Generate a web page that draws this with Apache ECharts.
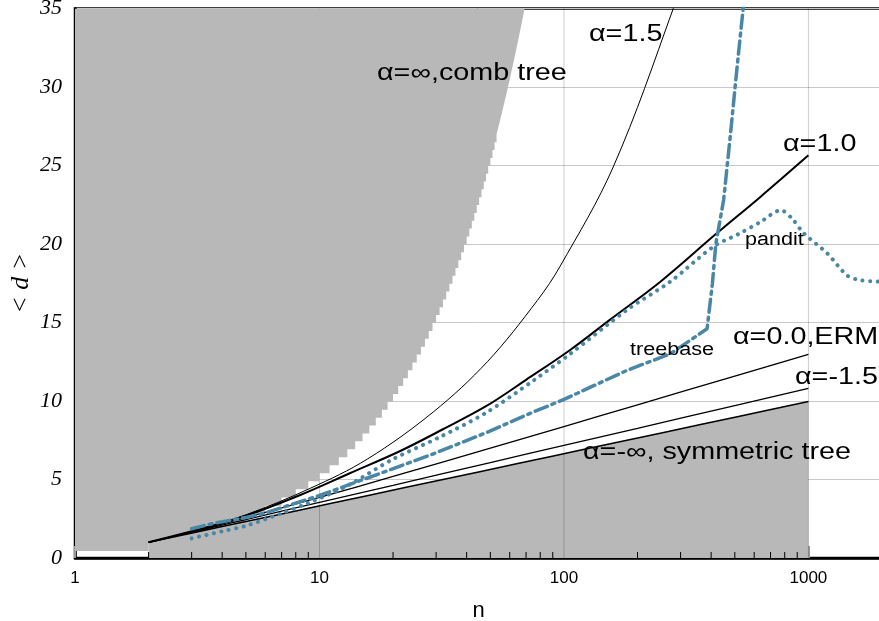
<!DOCTYPE html>
<html><head><meta charset="utf-8">
<script src="https://cdn.jsdelivr.net/npm/echarts@6/dist/echarts.min.js"></script>
<style>html,body{margin:0;padding:0;background:#fff}#c{width:879px;height:621px}</style>
</head><body><div id="c"></div><script>
// ---- data ----
const combN = [1,2,3,4,5,6,7,8,9,10,11,12,13,14,15,16,17,18,19,20,21,22,23,24,25,26,27,28,29,30,31,32,33,34,35,36,37,38,39,40,41,42,43,44,45,46,47,48,49,50,51,52,53,54,55,56,57,58,59,60,61,62,63,64,65,66,67,68,69,70];
const combDepth = [0.45,1.00,1.67,2.25,2.80,3.33,3.86,4.38,4.89,5.40,5.91,6.42,6.92,7.43,7.93,8.44,8.94,9.44,9.95,10.45,10.95,11.45,11.96,12.46,12.96,13.46,13.96,14.46,14.97,15.47,15.97,16.47,16.97,17.47,17.97,18.47,18.97,19.47,19.97,20.48,20.98,21.48,21.98,22.48,22.98,23.48,23.98,24.48,24.98,25.48,25.98,26.48,26.98,27.48,27.98,28.48,28.98,29.48,29.98,30.48,30.98,31.48,31.98,32.48,32.98,33.48,33.98,34.48,34.99,35.00];

const symN = [2,4,8,16,32,64,128,256,512,1000];
const symDepth = [1,2,3,4,5,6,7,8,9,9.97];

const a15N = [2,3,5,9.2,15.7,29.2,48.6,77.8,96.6,159,280,320];
const a15D = [1,1.7,2.75,4.45,6.3,9.3,12.5,16.4,18.6,24.9,35,38];

const a10N = [2,3,5,8.3,13.3,21.3,32,48.4,70,106,155,248,416,636,1000];
const a10D = [1,1.7,2.7,4.0,5.4,6.8,8.2,9.7,11.35,13.25,15.2,17.6,20.6,23.0,25.65];

const a00N = [2,3,5,10,20,50,100,200,500,1000];
const a00D = [1,1.667,2.567,3.858,5.195,6.998,8.375,9.756,11.586,12.971];

const am15N = [2,3,5,10,20,50,100,200,500,1000];
const am15D = [1,1.64,2.45,3.54,4.63,6.08,7.17,8.26,9.71,10.8];

const panditN = [3,4,5,7,9,13,20,31,48,75,106,181,272,410,520,636,771,860,955,1195,1440,1630,1970];
const panditD = [1.25,1.7,2.05,2.85,3.5,4.6,6.3,7.7,9.25,11.3,13.0,15.8,17.6,19.85,20.65,21.4,22.15,21.6,20.7,19.4,18.0,17.7,17.6];

const treeN = [3,3.67,5.06,5.9,10,18.3,29.3,48.4,75,100,181,272,385,405,418,450,480,511,540,560];
const treeD = [1.86,2.2,2.6,2.83,3.98,5.47,6.64,8.0,9.3,10.1,11.95,13.0,14.6,17.5,20,22.8,27,31.3,34.9,37];

const gridXs = [10,100,1000];
const minorTickXs = [2,3,4,5,6,7,8,9,20,30,40,50,60,70,80,90,200,300,400,500,600,700,800,900];
const xTickLabels = {1:'1',10:'10',100:'100',1000:'1000'};

const zip = (a,b) => a.map((v,i)=>[v,b[i]]);

const GRAY = '#b8b8b8';
const BLUE = '#4a87a6';
const SANS = '"Liberation Sans", Arial, Helvetica, sans-serif';
const SERIF = '"Liberation Serif", "Times New Roman", serif';

const chart = echarts.init(document.getElementById('c'), null, {renderer:'canvas'});

function blackLine(name, data, w, z){
  return {name, type:'line', data, symbol:'none', smooth:0.35, z:z||5,
    lineStyle:{color:'#000', width:w}, silent:true, animation:false};
}

function label(text, x, y, size, sx){
  return {type:'text', x:x, y:y, scaleX:sx, z:100,
    style:{text:text, fill:'#000', fontSize:size, fontFamily:SANS, align:'left', verticalAlign:'middle'}};
}

const option = {
  animation:false,
  grid:{left:75, right:-3, top:8.5, bottom:63, containLabel:false, outerBoundsMode:'none',
    show:true, borderColor:'#000', borderWidth:2.5, backgroundColor:'#fff'},
  xAxis:{type:'log', logBase:10, min:1, max:2000,
    axisLine:{show:true, lineStyle:{color:'#000', width:2.5}},
    axisTick:{show:true, inside:true, length:12, lineStyle:{color:'#999', width:2}},
    axisLabel:{color:'#000', fontSize:17, fontFamily:SANS, margin:12, showMaxLabel:false,
      formatter:(v)=> xTickLabels[Math.round(v)] || ''},
    splitLine:{show:false},
    name:'n', nameLocation:'middle', nameGap:42, nameMoveOverlap:false,
    nameTextStyle:{color:'#000', fontSize:22, fontFamily:SANS}},
  yAxis:{type:'value', min:0, max:35, interval:5,
    axisLine:{show:true, lineStyle:{color:'#000', width:2.5}},
    axisTick:{show:false},
    axisLabel:{color:'#000', fontSize:22, fontFamily:SERIF, fontStyle:'italic', margin:13},
    splitLine:{show:true, lineStyle:{color:'#c8c8c8', width:1}},
    name:'< d >', nameLocation:'middle', nameRotate:90, nameGap:41, nameMoveOverlap:false,
    nameTextStyle:{color:'#000', fontSize:26, fontFamily:SERIF, fontStyle:'italic'}},
  series:[
    {name:'symRegion', type:'line', data:zip(symN,symDepth), symbol:'none', z:1,
      lineStyle:{width:0}, areaStyle:{color:GRAY, opacity:1}, silent:true},
    {name:'vgrid', type:'custom', z:2, silent:true, data:gridXs.map(x=>[x]),
      renderItem:(params, api)=>{
        const p0 = api.coord([api.value(0), 0]);
        const p1 = api.coord([api.value(0), 35]);
        return {type:'line', shape:{x1:p0[0], y1:p0[1], x2:p1[0], y2:p1[1]},
          style:{stroke:'rgba(0,0,0,0.2)', lineWidth:1}};
      }},
    {name:'combRegion', type:'line', step:'end', data:zip(combN,combDepth), symbol:'none', z:3,
      lineStyle:{width:0}, areaStyle:{color:GRAY, opacity:1, origin:'end'}, silent:true},
    blackLine('α=1.5', zip(a15N,a15D), 1, 5),
    blackLine('α=1.0', zip(a10N,a10D), 2, 5),
    blackLine('α=0.0', zip(a00N,a00D), 1.3, 5),
    blackLine('α=-1.5', zip(am15N,am15D), 1.3, 5),
    blackLine('α=-∞', zip(symN,symDepth), 1.5, 5),
    {name:'treebase', type:'line', data:zip(treeN,treeD), symbol:'none', z:6,
      lineStyle:{color:BLUE, width:3.5, type:[13,5,3,5], cap:'round'}, silent:true},
    {name:'pandit', type:'line', data:zip(panditN,panditD), symbol:'none', smooth:0.3, z:7,
      lineStyle:{color:BLUE, width:4, type:[0.1,7.5], cap:'round'}, silent:true},
    {name:'minorTicks', type:'custom', z:8, silent:true, data:minorTickXs.map(x=>[x]),
      renderItem:(params, api)=>{
        const p0 = api.coord([api.value(0), 0]);
        return {type:'line', shape:{x1:p0[0], y1:p0[1], x2:p0[0], y2:p0[1]-6},
          style:{stroke:'#000', lineWidth:1}};
      }}
  ],
  graphic:[
    label('α=1.5', 589, 35, 23, 1.25),
    label('α=∞,comb tree', 377, 74, 23, 1.25),
    label('α=1.0', 783, 145, 23, 1.25),
    label('pandit', 745, 240, 18, 1.2),
    label('treebase', 630, 350, 18, 1.2),
    label('α=0.0,ERM', 733, 338, 23, 1.25),
    label('α=-1.5', 795, 378, 23, 1.25),
    label('α=-∞, symmetric tree', 583, 453, 23, 1.25)
  ]
};
chart.setOption(option);
</script></body></html>
